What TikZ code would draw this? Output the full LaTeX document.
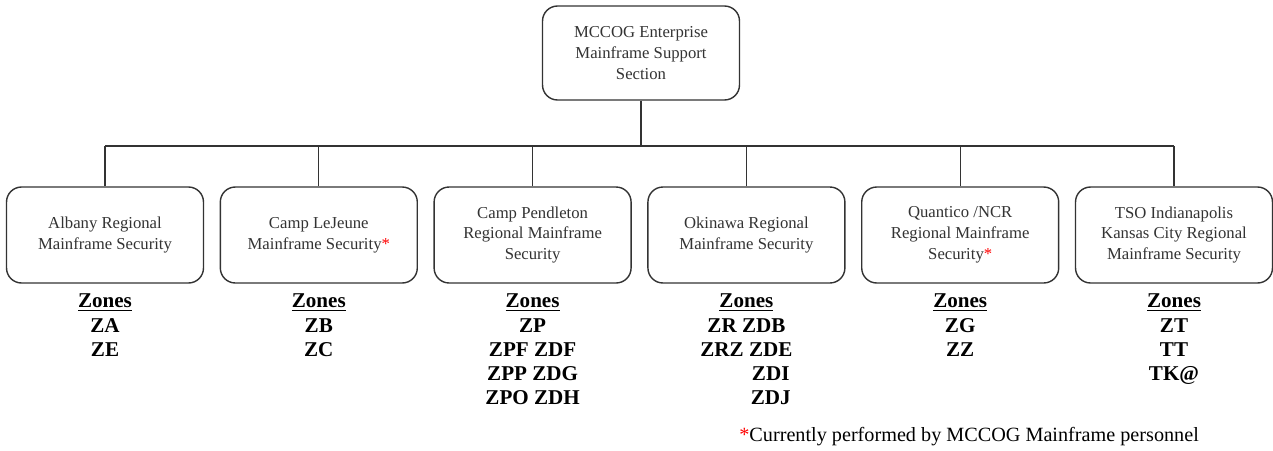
\documentclass[tikz,border=0pt]{standalone}
\usepackage{fontspec}
\setmainfont{Liberation Serif}
\usepackage{tikz}
\tikzset{unit/.style={draw=black!80,line width=0.8pt,rounded corners=0.3cm,fill=white,
                      text=black!80,align=center,minimum width=3.94cm,minimum height=1.92cm,
                      font=\fontsize{9.5}{11.8}\selectfont}}
\tikzset{zones/.style={align=center,inner sep=0pt,font=\fontsize{12}{13.8}\selectfont\bfseries}}
\newcommand{\redstar}{{\color{red}*}}
\def\colsep{213.8}

\begin{document}
\begin{tikzpicture}[x=0.02cm,y=-0.02cm,draw=black!80]
    \useasboundingbox (0,0) rectangle (1273,450);
    \tikzstyle{bar}=[line width=0.6pt]

    \node[unit,minimum height=1.88cm] (top) at (641,53) {MCCOG Enterprise\\Mainframe Support\\Section};
    \coordinate (bus) at (641,146);
    \draw[bar] (top) -- (bus);

    \foreach \name/\list [count=\i] in {%
        {Albany Regional\\Mainframe Security}/{ZA\\ZE},
        {Camp LeJeune\\Mainframe Security\redstar}/{ZB\\ZC},
        {Camp Pendleton\\Regional Mainframe\\Security}/{ZP\\ZPF ZDF\\ZPP ZDG\\ZPO ZDH},
        {Okinawa Regional\\Mainframe Security}/{ZR ZDB\\ZRZ ZDE\\\phantom{ZRZ }ZDI\\\phantom{ZRZ }ZDJ},
        {Quantico /NCR\\Regional Mainframe\\Security\redstar}/{ZG\\ZZ},
        {TSO Indianapolis\\Kansas City Regional\\Mainframe Security}/{ZT\\TT\\TK@}}{%
          \node[unit] (b\i) at (105+\colsep*\i-\colsep,235) {\name};
          \draw[bar] (b\i.north) -- (b\i.north |- bus);
          \node[zones,anchor=north,below=0.2cm] (z\i) at (b\i.south) {\underline{Zones}\\\list};
        }
    \draw[bar] (b1.north |- bus) -- (b6.north |- bus);

    % Note
    \node[anchor=west,inner sep=0pt,font=\fontsize{11.5}{13}\selectfont] (note) at (739,437)
        {\redstar Currently performed by MCCOG Mainframe personnel};
\end{tikzpicture}
\end{document}
